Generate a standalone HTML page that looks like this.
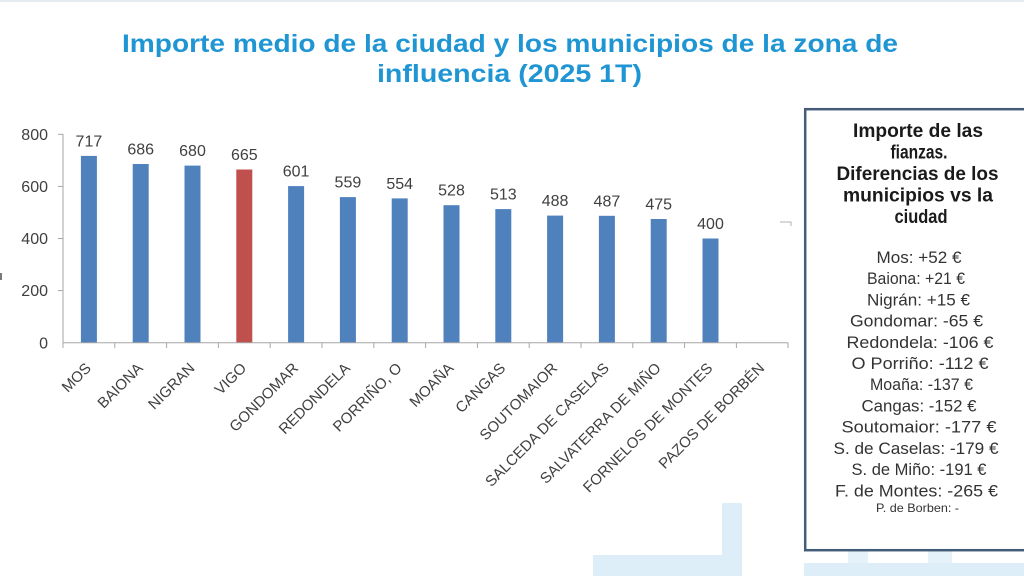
<!DOCTYPE html>
<html>
<head>
<meta charset="utf-8">
<style>
  html, body { margin:0; padding:0; background:#ffffff; }
  body { width:1024px; height:576px; overflow:hidden; }
  svg { display:block; }
  text { font-family: "Liberation Sans", "DejaVu Sans", sans-serif; }
</style>
</head>
<body>
<svg width="1024" height="576" viewBox="0 0 1024 576" xmlns="http://www.w3.org/2000/svg">
  <rect x="0" y="0" width="1024" height="576" fill="#ffffff"/>
  <rect x="0" y="0" width="1024" height="2" fill="#e6ebef"/>

  <rect x="722" y="503" width="20" height="73" fill="#ddeef9"/>
  <rect x="593" y="555" width="149" height="21" fill="#ddeef9"/>
  <rect x="804" y="563" width="220" height="13" fill="#ddeef9"/>
  <rect x="848" y="551" width="20" height="12" fill="#e6f2fa"/>
  <rect x="928" y="551" width="24" height="12" fill="#e6f2fa"/>

  <text x="122" y="52" font-size="25" font-weight="bold" fill="#1f96d3" textLength="776" lengthAdjust="spacingAndGlyphs">Importe medio de la ciudad y los municipios de la zona de</text>
  <text x="377" y="82" font-size="25" font-weight="bold" fill="#1f96d3" textLength="265" lengthAdjust="spacingAndGlyphs">influencia (2025 1T)</text>

  <rect x="0" y="273" width="2" height="7" fill="#7a7a7a"/>

  <line x1="63" y1="134" x2="63" y2="343" stroke="#a6a6a6" stroke-width="1"/>
  <g stroke="#a6a6a6" stroke-width="1">
    <line x1="58" y1="134.3" x2="63" y2="134.3"/>
    <line x1="58" y1="186.4" x2="63" y2="186.4"/>
    <line x1="58" y1="238.5" x2="63" y2="238.5"/>
    <line x1="58" y1="290.6" x2="63" y2="290.6"/>
  </g>
  <g font-size="16" fill="#404040" text-anchor="end">
    <text x="48" y="140">800</text>
    <text x="48" y="192">600</text>
    <text x="48" y="244">400</text>
    <text x="48" y="296">200</text>
    <text x="48" y="348.4">0</text>
  </g>

  <g fill="#4f81bd">
    <rect x="80.9" y="155.9" width="16" height="186.8"/>
    <rect x="132.7" y="164.0" width="16" height="178.7"/>
    <rect x="184.5" y="165.6" width="16" height="177.1"/>
    <rect x="236.3" y="169.5" width="16" height="173.2" fill="#c0504d"/>
    <rect x="288.1" y="186.1" width="16" height="156.6"/>
    <rect x="339.9" y="197.1" width="16" height="145.6"/>
    <rect x="391.7" y="198.4" width="16" height="144.3"/>
    <rect x="443.5" y="205.2" width="16" height="137.5"/>
    <rect x="495.3" y="209.1" width="16" height="133.6"/>
    <rect x="547.1" y="215.6" width="16" height="127.1"/>
    <rect x="598.9" y="215.8" width="16" height="126.9"/>
    <rect x="650.7" y="219.0" width="16" height="123.7"/>
    <rect x="702.5" y="238.5" width="16" height="104.2"/>
  </g>

  <line x1="63" y1="342.7" x2="788" y2="342.7" stroke="#a6a6a6" stroke-width="1"/>
  <g stroke="#a6a6a6" stroke-width="1">
    <line x1="63" y1="342.7" x2="63" y2="348"/>
    <line x1="114.8" y1="342.7" x2="114.8" y2="348"/>
    <line x1="166.6" y1="342.7" x2="166.6" y2="348"/>
    <line x1="218.4" y1="342.7" x2="218.4" y2="348"/>
    <line x1="270.2" y1="342.7" x2="270.2" y2="348"/>
    <line x1="322" y1="342.7" x2="322" y2="348"/>
    <line x1="373.8" y1="342.7" x2="373.8" y2="348"/>
    <line x1="425.6" y1="342.7" x2="425.6" y2="348"/>
    <line x1="477.4" y1="342.7" x2="477.4" y2="348"/>
    <line x1="529.2" y1="342.7" x2="529.2" y2="348"/>
    <line x1="581" y1="342.7" x2="581" y2="348"/>
    <line x1="632.8" y1="342.7" x2="632.8" y2="348"/>
    <line x1="684.6" y1="342.7" x2="684.6" y2="348"/>
    <line x1="736.4" y1="342.7" x2="736.4" y2="348"/>
    <line x1="788" y1="342.7" x2="788" y2="348"/>
  </g>

  <g font-size="16" fill="#404040" text-anchor="middle">
    <text x="88.9" y="146.5">717</text>
    <text x="140.7" y="154.5">686</text>
    <text x="192.5" y="156">680</text>
    <text x="244.3" y="160">665</text>
    <text x="296.1" y="176.6">601</text>
    <text x="347.9" y="187.6">559</text>
    <text x="399.7" y="188.9">554</text>
    <text x="451.5" y="195.7">528</text>
    <text x="503.3" y="199.6">513</text>
    <text x="555.1" y="206.1">488</text>
    <text x="606.9" y="206.3">487</text>
    <text x="658.7" y="209.5">475</text>
    <text x="710.5" y="229">400</text>
  </g>

  <g font-size="15" fill="#404040" text-anchor="end">
    <text transform="translate(92,369) rotate(-45)">MOS</text>
    <text transform="translate(143.7,369) rotate(-45)">BAIONA</text>
    <text transform="translate(195.5,369) rotate(-45)">NIGRAN</text>
    <text transform="translate(247.3,369) rotate(-45)">VIGO</text>
    <text transform="translate(299.1,369) rotate(-45)">GONDOMAR</text>
    <text transform="translate(350.9,369) rotate(-45)">REDONDELA</text>
    <text transform="translate(402.7,369) rotate(-45)">PORRIÑO, O</text>
    <text transform="translate(454.5,369) rotate(-45)">MOAÑA</text>
    <text transform="translate(506.3,369) rotate(-45)">CANGAS</text>
    <text transform="translate(558.1,369) rotate(-45)">SOUTOMAIOR</text>
    <text transform="translate(609.9,369) rotate(-45)">SALCEDA DE CASELAS</text>
    <text transform="translate(661.7,369) rotate(-45)">SALVATERRA DE MIÑO</text>
    <text transform="translate(713.5,369) rotate(-45)">FORNELOS DE MONTES</text>
    <text transform="translate(765.3,369) rotate(-45)">PAZOS DE BORBÉN</text>
  </g>

  <polyline points="780,222 791,222 791,226" fill="none" stroke="#b0b0b0" stroke-width="1"/>

  <rect x="805.2" y="109.2" width="240" height="441" fill="#ffffff" stroke="#435c78" stroke-width="2.5"/>

  <g font-size="19" font-weight="bold" fill="#1a1a1a" text-anchor="middle">
    <text x="918" y="137" textLength="130" lengthAdjust="spacingAndGlyphs">Importe de las</text>
    <text x="919" y="158.5" textLength="57" lengthAdjust="spacingAndGlyphs">fianzas.</text>
    <text x="917.5" y="180" textLength="162" lengthAdjust="spacingAndGlyphs">Diferencias de los</text>
    <text x="918" y="201.5" textLength="150" lengthAdjust="spacingAndGlyphs">municipios vs la</text>
    <text x="921" y="223" textLength="53" lengthAdjust="spacingAndGlyphs">ciudad</text>
  </g>

  <g font-size="17" fill="#333333" text-anchor="middle">
    <text x="919" y="263" textLength="85" lengthAdjust="spacingAndGlyphs">Mos: +52 €</text>
    <text x="916" y="284.2" textLength="98" lengthAdjust="spacingAndGlyphs">Baiona: +21 €</text>
    <text x="918.5" y="305.4" textLength="103" lengthAdjust="spacingAndGlyphs">Nigrán: +15 €</text>
    <text x="916.5" y="326.6" textLength="133" lengthAdjust="spacingAndGlyphs">Gondomar: -65 €</text>
    <text x="920" y="347.8" textLength="147" lengthAdjust="spacingAndGlyphs">Redondela: -106 €</text>
    <text x="920" y="369" textLength="137" lengthAdjust="spacingAndGlyphs">O Porriño: -112 €</text>
    <text x="921.5" y="390.2" textLength="103" lengthAdjust="spacingAndGlyphs">Moaña: -137 €</text>
    <text x="919" y="411.4" textLength="115" lengthAdjust="spacingAndGlyphs">Cangas: -152 €</text>
    <text x="919" y="432.6" textLength="155" lengthAdjust="spacingAndGlyphs">Soutomaior: -177 €</text>
    <text x="916" y="453.8" textLength="165" lengthAdjust="spacingAndGlyphs">S. de Caselas: -179 €</text>
    <text x="919" y="475" textLength="135" lengthAdjust="spacingAndGlyphs">S. de Miño: -191 €</text>
    <text x="916.5" y="496.5" textLength="163" lengthAdjust="spacingAndGlyphs">F. de Montes: -265 €</text>
  </g>
  <text x="917.5" y="512" font-size="12" fill="#333333" text-anchor="middle" textLength="83" lengthAdjust="spacingAndGlyphs">P. de Borben: -</text>
</svg>
</body>
</html>
